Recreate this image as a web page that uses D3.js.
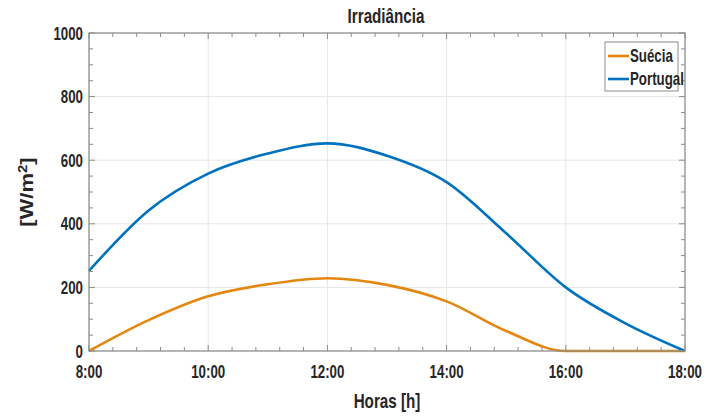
<!DOCTYPE html>
<html>
<head>
<meta charset="utf-8">
<script src="https://cdn.jsdelivr.net/npm/d3@7"></script>
<style>
  html, body { margin: 0; padding: 0; background: #fff; }
  svg text { font-family: "Liberation Sans", Arial, sans-serif; font-weight: bold; fill: #262626; }
</style>
</head>
<body>
<svg id="chart" width="720" height="417"></svg>
<script>
// Hourly irradiance readings, 8:00 to 18:00
const hours = [8, 9, 10, 11, 12, 13, 14, 15, 16, 17, 18];
const sueciaValues = [0, 97, 172, 210, 229, 208, 156, 63, 0, 0, 0];
const portugalValues = [252, 442, 558, 621, 653, 614, 531, 370, 200, 87, 0];
const seriesNames = ["Suécia", "Portugal"];
const seriesColors = ["#e3870f", "#0072bd"];
const xTickValues = [8, 10, 12, 14, 16, 18];
const xTickLabels = ["8:00", "10:00", "12:00", "14:00", "16:00", "18:00"];
const yTickValues = [0, 200, 400, 600, 800, 1000];

const svg = d3.select("#chart");
const margin = { left: 89, right: 35, top: 33, bottom: 66 };
const W = 720, H = 417;
const x = d3.scaleLinear().domain([8, 18]).range([margin.left, W - margin.right]);
const y = d3.scaleLinear().domain([0, 1000]).range([H - margin.bottom, margin.top]);

const x0 = x.range()[0], x1 = x.range()[1];
const y0 = y.range()[0], y1 = y.range()[1];

// condensed bold text helper
function label(px, py, str, size, anchor, sx = 0.76) {
  return svg.append("text")
    .attr("transform", `translate(${px},${py}) scale(${sx},1)`)
    .attr("text-anchor", anchor)
    .attr("font-size", size)
    .text(str);
}

// grid
const grid = svg.append("g").attr("stroke", "#e6e6e6").attr("stroke-width", 1);
xTickValues.forEach(v => grid.append("line").attr("x1", x(v)).attr("x2", x(v)).attr("y1", y0).attr("y2", y1));
yTickValues.forEach(v => grid.append("line").attr("x1", x0).attr("x2", x1).attr("y1", y(v)).attr("y2", y(v)));

// series
const series = [sueciaValues, portugalValues];
const line = d3.line().x(d => x(d[0])).y(d => y(d[1])).curve(d3.curveMonotoneX);
series.forEach((vals, i) => {
  svg.append("path")
    .datum(hours.map((h, j) => [h, vals[j]]))
    .attr("fill", "none")
    .attr("stroke", seriesColors[i])
    .attr("stroke-width", 2.6)
    .attr("stroke-linejoin", "round")
    .attr("d", line);
});

// axes box with inward ticks on all four sides
const axisColor = "#8c8c8c";
const xMinor = d3.range(8, 18.001, 0.4);
const yMinor = d3.range(0, 1000.001, 50);
const tg = svg.append("g").attr("stroke", axisColor).attr("stroke-width", 1);
xMinor.forEach(v => {
  const major = xTickValues.some(t => Math.abs(t - v) < 1e-6);
  const len = major ? 6 : 4;
  tg.append("line").attr("x1", x(v)).attr("x2", x(v)).attr("y1", y0).attr("y2", y0 - len);
  tg.append("line").attr("x1", x(v)).attr("x2", x(v)).attr("y1", y1).attr("y2", y1 + len);
});
yMinor.forEach(v => {
  const major = yTickValues.includes(Math.round(v));
  const len = major ? 6 : 4;
  tg.append("line").attr("x1", x0).attr("x2", x0 + len).attr("y1", y(v)).attr("y2", y(v));
  tg.append("line").attr("x1", x1).attr("x2", x1 - len).attr("y1", y(v)).attr("y2", y(v));
});
svg.append("rect").attr("x", x0).attr("y", y1).attr("width", x1 - x0).attr("height", y0 - y1)
  .attr("fill", "none").attr("stroke", axisColor).attr("stroke-width", 1.2);

// tick labels
xTickValues.forEach((v, i) => label(x(v), y0 + 27, xTickLabels[i], 17.5, "middle"));
yTickValues.forEach(v => label(x0 - 6, y(v) + 6.5, v, 17.5, "end"));

// titles
label((x0 + x1) / 2 - 1, 23, "Irradiância", 19.5, "middle", 0.78);
label((x0 + x1) / 2, 408, "Horas [h]", 19.5, "middle", 0.78);
const yl = svg.append("text")
  .attr("transform", `translate(33,${(y0 + y1) / 2}) rotate(-90) scale(1,0.8)`)
  .attr("text-anchor", "middle").attr("font-size", 22);
yl.append("tspan").text("[W/m");
yl.append("tspan").attr("dy", -8).attr("font-size", 15).text("2");
yl.append("tspan").attr("dy", 8).text("]");

// legend
const lg = svg.append("g").attr("transform", "translate(605,42)");
lg.append("rect").attr("width", 73).attr("height", 49).attr("fill", "#fff")
  .attr("stroke", "#8c8c8c").attr("stroke-width", 1);
seriesNames.forEach((name, i) => {
  const yy = 14 + i * 23;
  lg.append("line").attr("x1", 3).attr("x2", 24).attr("y1", yy).attr("y2", yy)
    .attr("stroke", seriesColors[i]).attr("stroke-width", 2.6);
  lg.append("text").attr("transform", `translate(25,${yy + 6}) scale(0.76,1)`)
    .attr("font-size", 17.5).text(name);
});
</script>
</body>
</html>
